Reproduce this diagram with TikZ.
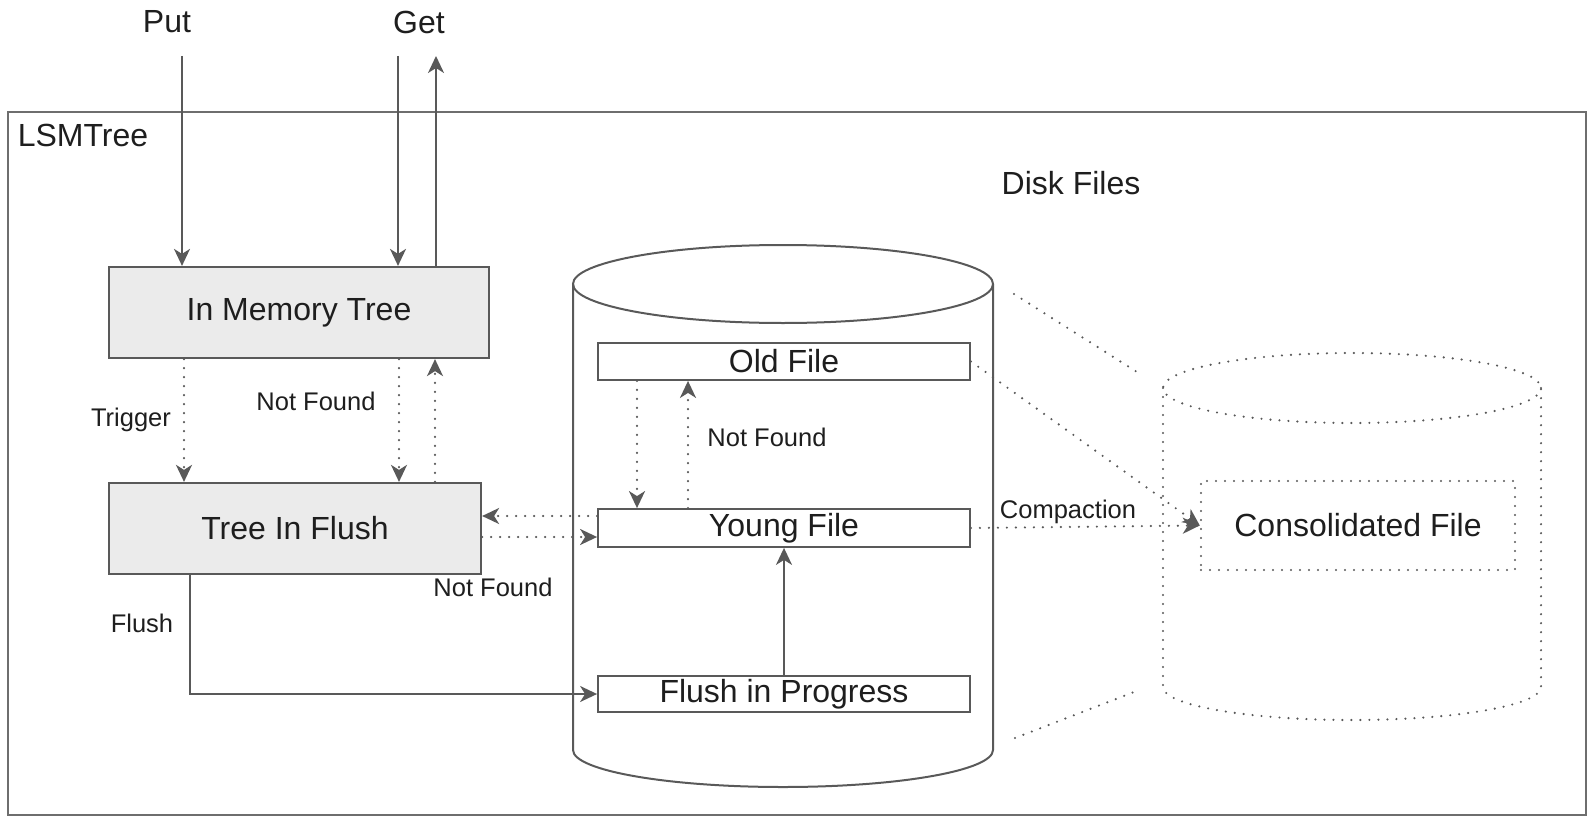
\documentclass[tikz,border=0pt]{standalone}
\usepackage{fontspec}
\setmainfont{Liberation Sans}
\usetikzlibrary{arrows.meta}
\definecolor{linegray}{HTML}{595959}
\definecolor{framegray}{HTML}{6E6E6E}
\definecolor{boxfill}{HTML}{EBEBEB}
\definecolor{txtgray}{HTML}{1E1E1E}
\newcommand{\bigtxt}{\fontsize{32}{38}\selectfont}
\newcommand{\smalltxt}{\fontsize{25.5}{30}\selectfont}
\tikzset{
	treebox/.style={draw=linegray, line width=2.2pt, fill=boxfill, inner sep=0pt, font=\bigtxt, text=txtgray},
	filebox/.style={draw=linegray, line width=1.8pt, fill=white, inner sep=0pt, font=\bigtxt, text=txtgray},
	title/.style={font=\bigtxt, text=txtgray, inner sep=0pt},
	lbl/.style={font=\smalltxt, text=txtgray, inner sep=0pt},
	flow/.style={draw=linegray, line width=2pt, -{Stealth[length=17pt,width=16pt,inset=5pt]}},
	dots/.style={draw=linegray, line width=2.4pt, line cap=round, dash pattern=on 0pt off 9pt},
	dotflow/.style={dots, -{Stealth[length=17pt,width=16pt,inset=5pt]}}
}

\begin{document}
\begin{tikzpicture}[x=1pt,y=-1pt]
		\useasboundingbox (0,0) rectangle (1589,816);
		
		\draw[framegray, line width=2pt] (8,112) rectangle (1586,815);
		\node[title] (lsmtree) at (83,135) {LSMTree};
		\node[title] (put) at (167,22) {Put};
		\node[title] (get) at (419,22) {Get};
		\node[title] (disk) at (1071,183) {Disk Files};
		
		\draw[linegray, line width=2pt] (783,284) ellipse [x radius=210, y radius=39];
		\draw[linegray, line width=2pt] (573,284) -- (573,750) arc[start angle=180, end angle=0, x radius=210, y radius=37] -- (993,284);
		
		\draw[dots] (1352,388) ellipse [x radius=189, y radius=35];
		\draw[dots] (1163,388) -- (1163,687) arc[start angle=180, end angle=0, x radius=189, y radius=33] -- (1541,388);
		\draw[dots] (1014,294) -- (1137,372);
		\draw[dots] (1015,738) -- (1134,692);
		
		\node[treebox, minimum width=380, minimum height=91] (mem) at (299,312.5) {In Memory Tree};
		\node[treebox, minimum width=372, minimum height=91] (flush) at (295,528.5) {Tree In Flush};
		
		\node[filebox, minimum width=372, minimum height=37] (old) at (784,361.5) {Old File};
		\node[filebox, minimum width=372, minimum height=38] (young) at (784,528) {Young File};
		\node[filebox, minimum width=372, minimum height=36] (prog) at (784,694) {Flush in Progress};
		\node[treebox, dots, fill=none, minimum width=314, minimum height=89] (cons) at (1358,525.5) {Consolidated File};
		
		\node[lbl] (trigger) at (131,420) {Trigger};
		\node[lbl] (nfmem) at (316,401) {Not Found};
		\node[lbl] (nfflush) at (493,587) {Not Found};
		\node[lbl] (flushlbl) at (142,623) {Flush};
		\node[lbl] (nfold) at (767,437) {Not Found};
		\node[lbl] (compaction) at (1068,512) {Compaction};
		
		\coordinate (putx) at (182,56);
		\coordinate (getdn) at (398,56);
		\coordinate (getup) at (436,56);
		\coordinate (trigx) at (184,0);
		\coordinate (nfdn) at (399,0);
		\coordinate (nfup) at (435,0);
		\coordinate (flushx) at (190,0);
		\coordinate (oldx) at (637,0);
		\coordinate (youngx) at (688,0);
		\coordinate (toleft) at (0,516);
		\coordinate (toright) at (0,537);
		
		\draw[flow] (putx) -- (putx |- mem.north);
		\draw[flow] (getdn) -- (getdn |- mem.north);
		\draw[flow] (getup |- mem.north) -- (getup);
		\draw[dotflow] (trigx |- mem.south) -- (trigx |- flush.north);
		\draw[dotflow] (nfdn |- mem.south) -- (nfdn |- flush.north);
		\draw[dotflow] (nfup |- flush.north) -- (nfup |- mem.south);
		\draw[dotflow] (young.west |- toleft) -- (flush.east |- toleft);
		\draw[dotflow] (flush.east |- toright) -- (young.west |- toright);
		\draw[flow] (flushx |- flush.south) |- (prog.west);
		\draw[dotflow] (oldx |- old.south) -- (oldx |- young.north);
		\draw[dotflow] (youngx |- young.north) -- (youngx |- old.south);
		\draw[flow] (prog.north) -- (young.south);
		\draw[dotflow] (young.east) -- (cons.west);
		\draw[dotflow] (old.east) -- (cons.west);
	\end{tikzpicture}
\end{document}
